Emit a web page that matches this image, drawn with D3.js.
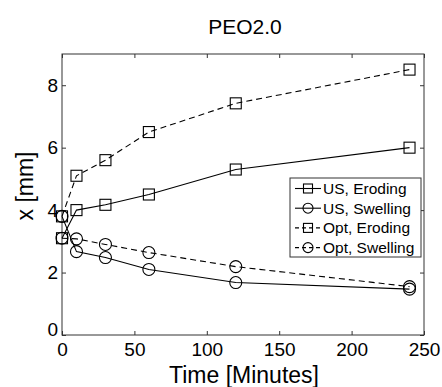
<!DOCTYPE html>
<html><head><meta charset="utf-8">
<script src="https://cdn.jsdelivr.net/npm/d3@7"></script>
<style>body{margin:0;background:#fff;}svg{display:block;font-family:"Liberation Sans",Arial,sans-serif;}</style>
</head><body><svg id="c" width="442" height="387"></svg>
<script>
const times = [0, 10, 30, 60, 120, 240];
const usEroding = [3.1, 4.0, 4.17, 4.5, 5.3, 6.0];
const usSwelling = [3.8, 2.67, 2.48, 2.1, 1.68, 1.47];
const optEroding = [3.8, 5.1, 5.6, 6.5, 7.42, 8.5];
const optSwelling = [3.1, 3.08, 2.9, 2.64, 2.19, 1.55];
const xTicks = [0, 50, 100, 150, 200, 250];
const yTicks = [0, 2, 4, 6, 8];
const seriesNames = ["US, Eroding", "US, Swelling", "Opt, Eroding", "Opt, Swelling"];
const seriesData = [usEroding, usSwelling, optEroding, optSwelling];
const seriesMarker = ["square", "circle", "square", "circle"];
const seriesDash = [null, null, "6,4", "6,4"];

const svg = d3.select("#c");
const L = 62, R = 424, T = 54, B = 335;
const x = d3.scaleLinear().domain([0, 250]).range([L, R]);
const y = d3.scaleLinear().domain([0, 9]).range([B, T]);

svg.append("rect").attr("x", L).attr("y", T).attr("width", R - L).attr("height", B - T)
  .attr("fill", "none").attr("stroke", "#333").attr("stroke-width", 1);

const ax = svg.append("g").attr("transform", `translate(0,${B})`)
  .call(d3.axisBottom(x).tickValues(xTicks).tickSize(-4).tickPadding(8).tickFormat(d3.format("d")));
const axT = svg.append("g").attr("transform", `translate(0,${T})`)
  .call(d3.axisTop(x).tickValues(xTicks).tickSize(-4).tickFormat(""));
const ay = svg.append("g").attr("transform", `translate(${L},0)`)
  .call(d3.axisLeft(y).tickValues(yTicks).tickSize(-4).tickPadding(4).tickFormat(d3.format("d")));
const ayR = svg.append("g").attr("transform", `translate(${R},0)`)
  .call(d3.axisRight(y).tickValues(yTicks).tickSize(-4).tickFormat(""));
[ax, axT, ay, ayR].forEach(g => {
  g.select(".domain").remove();
  g.selectAll(".tick line").attr("stroke", "#333");
  g.selectAll("text").attr("font-size", 19).attr("fill", "#000").attr("font-family", '"Liberation Sans",Arial,sans-serif');
});
ax.selectAll("text").attr("dy", "0.71em");
ax.selectAll(".tick").filter(d => d === 0).select("text").attr("dx", 0);
ay.selectAll(".tick").filter(d => d === 0).select("text").attr("dy", "0.05em");

svg.append("text").attr("x", 245).attr("y", 34).attr("text-anchor", "middle")
  .attr("font-size", 21).text("PEO2.0");
svg.append("text").attr("x", 244).attr("y", 383).attr("text-anchor", "middle")
  .attr("font-size", 23).text("Time [Minutes]");
svg.append("text").attr("transform", "translate(33,186) rotate(-90)").attr("text-anchor", "middle")
  .attr("font-size", 23).text("x [mm]");

const line = d3.line().x((d, i) => x(times[i])).y(d => y(d));
function marker(g, type, cx, cy, s) {
  if (type === "square") {
    g.append("rect").attr("x", cx - s).attr("y", cy - s).attr("width", 2 * s).attr("height", 2 * s)
      .attr("fill", "none").attr("stroke", "#000").attr("stroke-width", 1.1);
  } else {
    g.append("circle").attr("cx", cx).attr("cy", cy).attr("r", s + 0.5)
      .attr("fill", "none").attr("stroke", "#000").attr("stroke-width", 1.1);
  }
}
seriesData.forEach((data, s) => {
  const g = svg.append("g");
  g.append("path").datum(data).attr("d", line).attr("fill", "none").attr("stroke", "#000")
    .attr("stroke-width", 1.1).attr("stroke-dasharray", seriesDash[s]);
  data.forEach((d, i) => marker(g, seriesMarker[s], x(times[i]), y(d), 5.5));
});

const lg = svg.append("g");
lg.append("rect").attr("x", 290).attr("y", 178).attr("width", 131).attr("height", 79)
  .attr("fill", "#fff").attr("stroke", "#333").attr("stroke-width", 1);
seriesNames.forEach((n, i) => {
  const cy = 188.5 + i * 19.7;
  lg.append("line").attr("x1", 295).attr("x2", 321).attr("y1", cy).attr("y2", cy)
    .attr("stroke", "#000").attr("stroke-width", 1.1).attr("stroke-dasharray", seriesDash[i] ? "4,3" : null);
  marker(lg, seriesMarker[i], 308, cy, 4.5);
  lg.append("text").attr("x", 323).attr("y", cy).attr("dy", "0.35em").attr("font-size", 15.5).text(n);
});
</script></body></html>
